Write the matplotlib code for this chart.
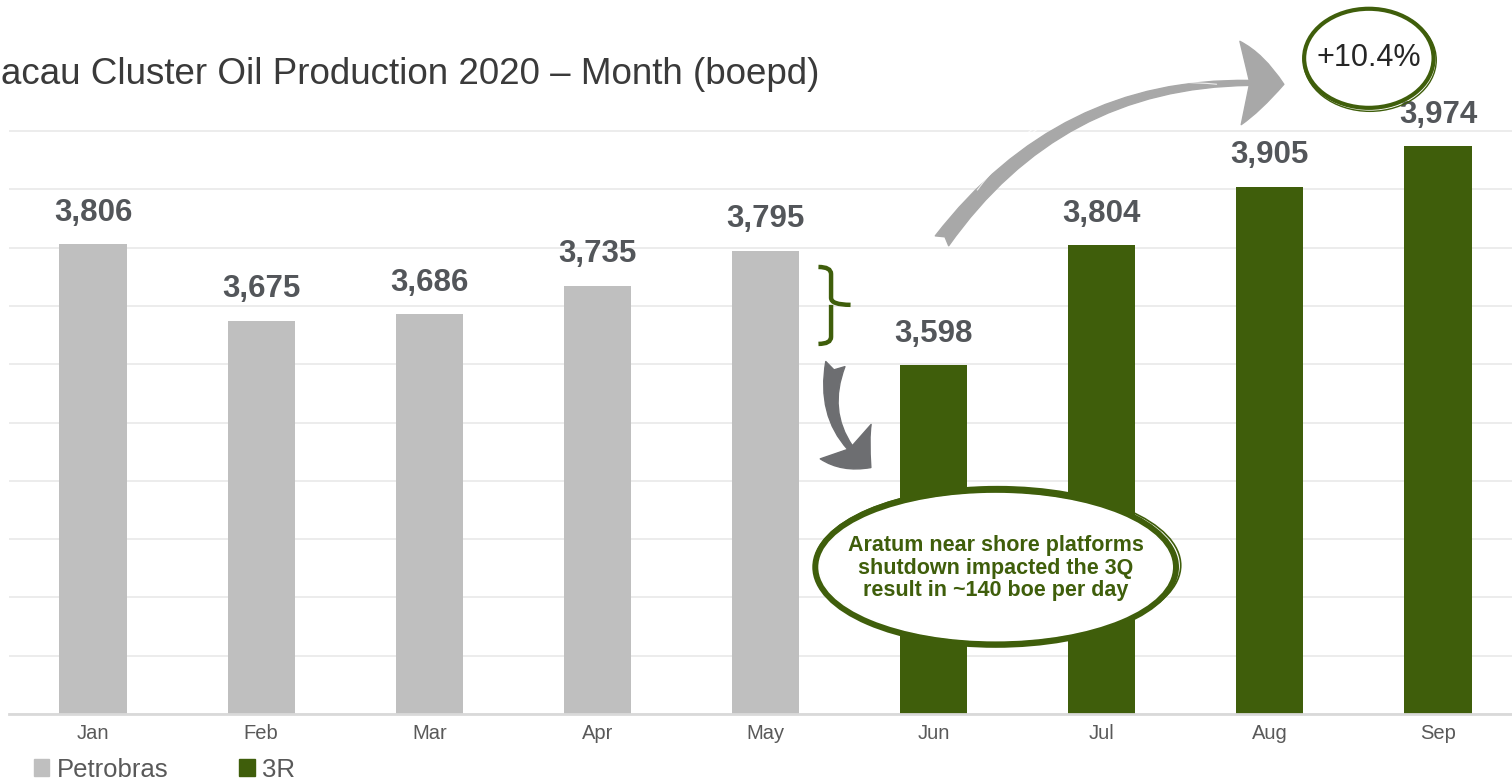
import numpy as np
import matplotlib.pyplot as plt
from matplotlib.patches import Ellipse, FancyArrowPatch, PathPatch, Patch
from matplotlib.path import Path

plt.rcParams['font.family'] = ['Liberation Sans', 'DejaVu Sans']

months = ["Jan", "Feb", "Mar", "Apr", "May", "Jun", "Jul", "Aug", "Sep"]
production = [3806, 3675, 3686, 3735, 3795, 3598, 3804, 3905, 3974]
operator = ["Petrobras"] * 5 + ["3R"] * 4

GREY = "#bfbfbf"
GREEN = "#3f5e0b"
colors = {"Petrobras": GREY, "3R": GREEN}

fig = plt.figure(figsize=(15.12, 7.82), dpi=100)
ax = fig.add_axes([9 / 1512, 68 / 782, 1513 / 1512, 584 / 782])

x = np.arange(len(months))
bars = ax.bar(x, production, width=0.4, color=[colors[o] for o in operator], zorder=2)

ax.set_xlim(-0.5, 8.5)
ax.set_ylim(3000, 4002)
ax.set_yticks(np.arange(3000, 4001, 100))
ax.yaxis.grid(True, color="#ececec", lw=1.4)
ax.set_axisbelow(True)
ax.tick_params(axis="y", length=0, labelleft=False)
ax.set_xticks(x, months)
ax.tick_params(axis="x", length=0, pad=7, labelsize=14.5, labelcolor="#595959")
for s in ["top", "right", "left"]:
    ax.spines[s].set_visible(False)
ax.spines["bottom"].set_color("#d9d9d9")
ax.spines["bottom"].set_linewidth(2)

for xi, v in zip(x, production):
    ax.annotate(f"{v:,}", (xi, v), xytext=(0, 12), textcoords="offset points",
                ha="center", va="bottom", fontsize=22.5, fontweight="bold",
                color="#53565a", annotation_clip=False)

fig.text(1 / 1512, 0.905, "acau Cluster Oil Production 2020 \u2013 Month (boepd)",
         ha="left", va="center", fontsize=26.5, color="#3a3a3a")

# brace between May and Jun
xb0, xb1, xb2 = 4.315, 4.39, 4.506
yt, ym, yb = 3767, 3702, 3635
brace = Path(
    [(xb0, yt), (xb1, yt), (xb1, yt - 12), (xb1, ym + 12), (xb1, ym), (xb2, ym),
     (xb1, ym), (xb1, ym - 12), (xb1, yb + 12), (xb1, yb), (xb0, yb)],
    [Path.MOVETO, Path.CURVE3, Path.CURVE3, Path.LINETO, Path.CURVE3, Path.CURVE3,
     Path.MOVETO, Path.CURVE3, Path.LINETO, Path.CURVE3, Path.CURVE3])
ax.add_patch(PathPatch(brace, fill=False, ec=GREEN, lw=3.2, zorder=5, clip_on=False))

down = FancyArrowPatch((4.42, 3605), (4.64, 3420), connectionstyle="arc3,rad=0.35",
                       arrowstyle="fancy,head_length=1.0,head_width=1.7,tail_width=0.55",
                       mutation_scale=26, color="#6d6e71", zorder=5, clip_on=False)
ax.add_patch(down)

# callout bubble
ax.add_patch(Ellipse((5.369, 3252), 2.14, 265, fc="white", ec=GREEN, lw=5, zorder=6))
ax.add_patch(Ellipse((5.369, 3252), 2.10, 252, fill=False, ec="white", lw=1.2, zorder=7))
ax.add_patch(Ellipse((5.38, 3255), 2.18, 270, fill=False, ec=GREEN, lw=1.2, zorder=7))
ax.text(5.369, 3250, "Aratum near shore platforms\nshutdown impacted the 3Q\nresult in ~140 boe per day",
        ha="center", va="center", fontsize=15.5, fontweight="bold", color=GREEN,
        linespacing=1.1, zorder=8)

# growth arrow and badge
up = FancyArrowPatch((5.04, 3808), (7.1, 4080), connectionstyle="arc3,rad=-0.28",
                     arrowstyle="fancy,head_length=1.3,head_width=2.5,tail_width=0.5",
                     mutation_scale=24, color="#a8a8a8", zorder=5, clip_on=False)
ax.add_patch(up)
for dy, r in [(6, -0.27), (-5, -0.29)]:
    ax.add_patch(FancyArrowPatch((5.25, 3900 + dy), (6.7, 4085 + dy),
                                 connectionstyle=f"arc3,rad={r}", arrowstyle="-",
                                 color="white", lw=0.8, alpha=0.8, zorder=5, clip_on=False))

ax.add_patch(Ellipse((7.589, 4125), 0.77, 170, fc="white", ec=GREEN, lw=3, zorder=6, clip_on=False))
ax.add_patch(Ellipse((7.595, 4122), 0.79, 176, fill=False, ec=GREEN, lw=1.0, zorder=6, clip_on=False))
ax.text(7.589, 4125, "+10.4%", ha="center", va="center", fontsize=22, color="#262626", zorder=7)

handles = [Patch(color=GREY, label="Petrobras"), Patch(color=GREEN, label="3R")]
fig.legend(handles=handles, loc="lower left", bbox_to_anchor=(0.007, -0.029), ncol=2,
           frameon=False, fontsize=18.5, handlelength=0.6, handleheight=0.6,
           handletextpad=0.3, columnspacing=2.75, labelcolor="#595959")

fig.savefig("out.png", dpi=100, facecolor="white")
